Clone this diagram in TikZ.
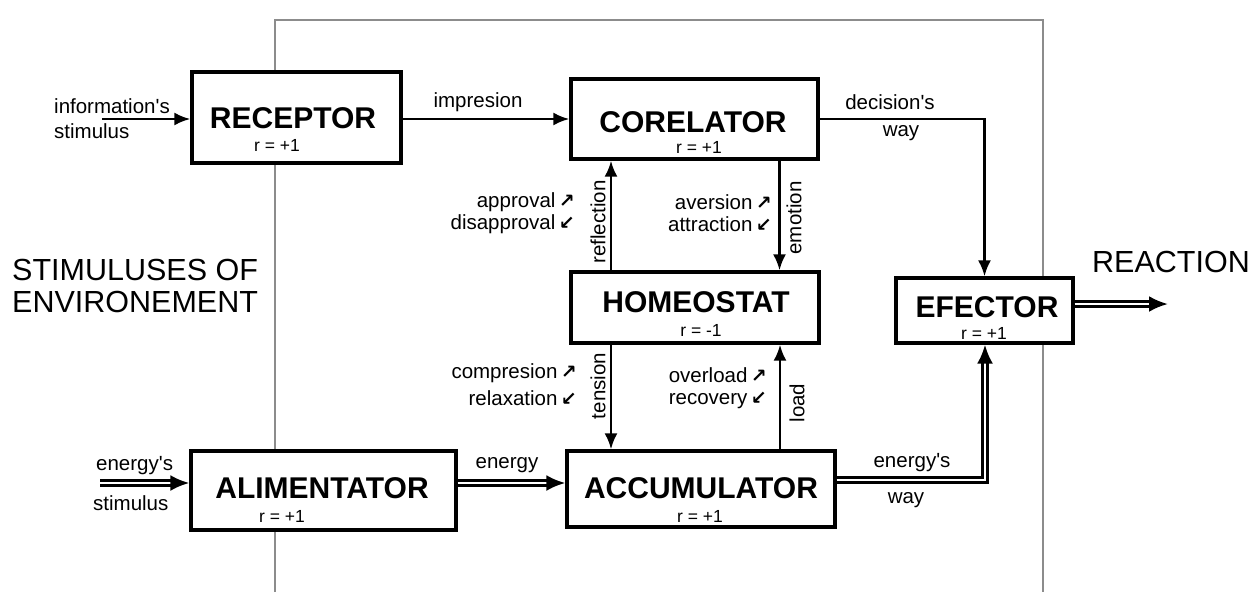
\documentclass[tikz,border=0pt]{standalone}
\usepackage{fontspec}
\setmainfont{Liberation Sans}
\newfontfamily\symfont{DejaVu Sans}
\usetikzlibrary{arrows.meta}

\newcommand{\up}{{\symfont\bfseries\fontsize{19}{19}\selectfont ↗}}
\newcommand{\down}{{\symfont\bfseries\fontsize{19}{19}\selectfont ↙}}
\newcommand{\q}{\textquotesingle}

\tikzset{
  blk/.style={draw=black, fill=white, line width=3.2pt, inner sep=0pt},
  ttl/.style={inner sep=0pt, font=\bfseries\fontsize{30}{30}\selectfont},
  rval/.style={inner sep=0pt, font=\fontsize{17.5}{18}\selectfont},
  lbl/.style={inner sep=0pt, font=\fontsize{20.5}{22}\selectfont},
  big/.style={inner sep=0pt, font=\fontsize{30.5}{31}\selectfont},
  vlbl/.style={lbl, rotate=90},
  arr/.style={line width=2.8pt, -{Latex[length=16pt,width=13pt]}},
  dbl/.style={double=white, double distance=2.6pt, line width=2.9pt,
              -{Latex[length=19pt,width=16pt]}},
  frame/.style={draw=black!45, line width=1.3pt}
}

\begin{document}
\begin{tikzpicture}[x=1pt, y=-1pt]
\useasboundingbox[fill=white] (0,0) rectangle (1253,592);

% boundary of the system
\draw[frame] (275,592) -- (275,20) -- (1043,20) -- (1043,592);

% blocks
\node[blk, minimum width=209pt, minimum height=91pt] (rec) at (296.5,117.5) {};
\node[blk, minimum width=247pt, minimum height=80pt] (cor) at (694.5,119) {};
\node[blk, minimum width=248pt, minimum height=71pt] (hom) at (695,307.5) {};
\node[blk, minimum width=177pt, minimum height=65pt] (efe) at (984.5,310.5) {};
\node[blk, minimum width=265pt, minimum height=79pt] (ali) at (323.5,490.5) {};
\node[blk, minimum width=268pt, minimum height=76pt] (acc) at (701,489) {};

% block titles and coefficients
\node[ttl] (recT) at (293,118) {RECEPTOR};
\node[rval] (recR) at (277,145) {r = +1};
\node[ttl] (corT) at (693,122) {CORELATOR};
\node[rval] (corR) at (699,147) {r = +1};
\node[ttl] (homT) at (696,302) {HOMEOSTAT};
\node[rval] (homR) at (701,330) {r = -1};
\node[ttl] (efeT) at (987,307) {EFECTOR};
\node[rval] (efeR) at (984,333) {r = +1};
\node[ttl] (aliT) at (322,488) {ALIMENTATOR};
\node[rval] (aliR) at (282,516) {r = +1};
\node[ttl] (accT) at (701,488) {ACCUMULATOR};
\node[rval] (accR) at (700,516) {r = +1};

% free ends
\coordinate (infoin) at (102,119);
\coordinate (enin) at (100,483);
\coordinate (wayturn) at (985,480);
\coordinate (reactout) at (1168,304);

% information channel
\draw[arr] (infoin) -- (infoin -| rec.west);
\draw[arr] (rec.east |- cor.west) -- (cor.west);
\draw[arr] (cor.east) -| (efe.north);
\draw[arr] ([xshift=-84pt]hom.north) -- ([xshift=-84pt]hom.north |- cor.south);
\draw[arr] ([xshift=85pt]cor.south) -- ([xshift=85pt]cor.south |- hom.north);
\draw[arr] ([xshift=-84pt]hom.south) -- ([xshift=-84pt]hom.south |- acc.north);
\draw[arr] ([xshift=85pt]hom.south |- acc.north) -- ([xshift=85pt]hom.south);

% energy channel
\draw[dbl] (enin) -- (enin -| ali.west);
\draw[dbl] (ali.east |- enin) -- (acc.west |- enin);
\draw[dbl] (acc.east |- wayturn) -- (wayturn) -- (wayturn |- efe.south);
\draw[dbl] (efe.east |- reactout) -- (reactout);

% connector labels
\node[lbl, anchor=west] (l1) at (54,106) {information\q s};
\node[lbl, anchor=west] (l2) at (54,131) {stimulus};
\node[lbl] (l3) at (478,102) {impresion};
\node[lbl] (l4) at (890,102) {decision\q s};
\node[lbl] (l5) at (901,133) {way};
\node[lbl, anchor=east] (l6) at (575,202) {approval\,\up};
\node[lbl, anchor=east] (l7) at (575,224) {disapproval\,\down};
\node[lbl, anchor=east] (l8) at (772,202) {aversion\,\up};
\node[lbl, anchor=east] (l9) at (772,224) {attraction\,\down};
\node[lbl, anchor=east] (l10) at (577,373) {compresion\,\up};
\node[lbl, anchor=east] (l11) at (577,398) {relaxation\,\down};
\node[lbl, anchor=east] (l12) at (767,375) {overload\,\up};
\node[lbl, anchor=east] (l13) at (767,400) {recovery\,\down};
\node[vlbl] (l14) at (598,222) {reflection};
\node[vlbl] (l15) at (794,218) {emotion};
\node[vlbl] (l16) at (598,386) {tension};
\node[vlbl] (l17) at (797,403) {load};
\node[lbl, anchor=west] (l18) at (96,466) {energy\q s};
\node[lbl, anchor=west] (l19) at (93,503) {stimulus};
\node[lbl] (l20) at (507,465) {energy};
\node[lbl] (l21) at (912,463) {energy\q s};
\node[lbl] (l22) at (906,500) {way};

% environment and output
\node[big, anchor=west] (react) at (1092,262) {REACTION};
\node[big, anchor=west] (env1) at (12,270) {STIMULUSES OF};
\node[big, anchor=west] (env2) at (12,302) {ENVIRONEMENT};
\end{tikzpicture}
\end{document}
